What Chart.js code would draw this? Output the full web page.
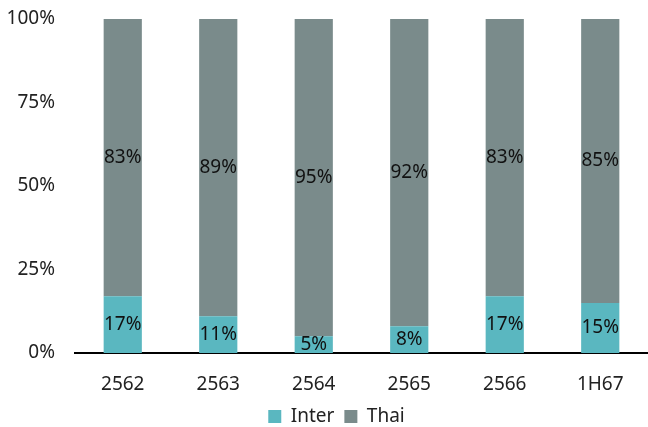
<!DOCTYPE html>
<html>
<head>
<meta charset="utf-8">
<script src="https://cdn.jsdelivr.net/npm/chart.js@4"></script>
<style>
  html, body { margin: 0; padding: 0; background: #fff; }
  #wrap { width: 648px; height: 427px; }
</style>
</head>
<body>
<div id="wrap"><canvas id="chart" width="648" height="427"></canvas></div>
<script>
// ---------- Data ----------
const categories = ["2562", "2563", "2564", "2565", "2566", "1H67"];
const interShare = [17, 11, 5, 8, 17, 15];
const thaiShare = [83, 89, 95, 92, 83, 85];
const yTicks = [0, 25, 50, 75, 100];

const FONT = "'Noto Sans', 'Open Sans', sans-serif";

// labels in the middle of every bar segment
const barLabels = {
  id: "barLabels",
  afterLayout(chart) {
    // legend sits a little right of centre in the original
    chart.legend.left += 11;
    chart.legend.right += 11;
  },
  afterDatasetsDraw(chart) {
    const ctx = chart.ctx;
    ctx.save();
    ctx.font = "19px " + FONT;
    ctx.fillStyle = "#111";
    ctx.textAlign = "center";
    ctx.textBaseline = "middle";
    chart.data.datasets.forEach((ds, i) => {
      chart.getDatasetMeta(i).data.forEach((bar, j) => {
        const mid = (bar.y + bar.base) / 2;
        ctx.fillText(ds.data[j] + "%", bar.x, mid);
      });
    });
    ctx.restore();
  }
};

new Chart(document.getElementById("chart").getContext("2d"), {
  type: "bar",
  data: {
    labels: categories,
    datasets: [
      { label: "Inter", data: interShare, backgroundColor: "#5ab7c0", categoryPercentage: 1, barPercentage: 0.4 },
      { label: "Thai", data: thaiShare, backgroundColor: "#7a8b8b", categoryPercentage: 1, barPercentage: 0.4 }
    ]
  },
  options: {
    responsive: false,
    animation: false,
    layout: { padding: { top: 19, right: -3, left: 0, bottom: -9 } },
    plugins: {
      legend: {
        position: "bottom",
        labels: { font: { size: 19, family: FONT }, color: "#222", boxWidth: 13, boxHeight: 13, padding: 10 }
      },
      tooltip: { enabled: false }
    },
    scales: {
      x: {
        stacked: true,
        afterFit(s) { s.height = 44; },
        grid: { display: false, drawTicks: false },
        border: { display: true, color: "#000", width: 2 },
        ticks: { font: { size: 19, family: FONT }, color: "#222", padding: 20 }
      },
      y: {
        stacked: true,
        min: 0,
        max: 100,
        afterFit(s) { s.width = 75; s.paddingTop = 0; s.paddingBottom = 0; },
        afterBuildTicks(s) { s.ticks = yTicks.map(v => ({ value: v })); },
        grid: { display: false, drawTicks: false },
        border: { display: false },
        ticks: { font: { size: 19, family: FONT }, color: "#222", padding: 20, callback: v => v + "%" }
      }
    }
  },
  plugins: [barLabels]
});
</script>
</body>
</html>
